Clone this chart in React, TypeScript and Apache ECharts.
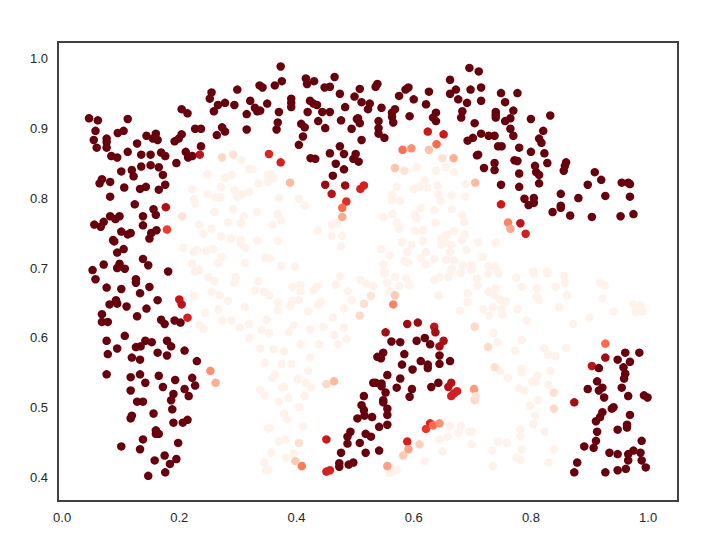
import React, { useEffect, useRef } from "react";
import * as echarts from "echarts";

const xTicks = [0, 0.2, 0.4, 0.6, 0.8, 1.0];
const yTicks = [0.4, 0.5, 0.6, 0.7, 0.8, 0.9, 1.0];
const redsScale = ["#fff5f0", "#fee0d2", "#fcbba1", "#fc9272", "#fb6a4a", "#ef3b2c", "#cb181d", "#a50f15", "#67000d"];

const lightPoints: number[][] = [
[.306,.854],[.319,.841],[.325,.841],[.248,.834],[.278,.829],[.289,.833],[.222,.813],[.271,.816],[.335,.821],[.351,.833],[.351,.823],[.248,.806],[.262,.801],[.270,.801],[.294,.811],[.299,.802],[.306,.805],[.319,.809],[.225,.798],[.227,.792],[.292,.784],[.260,.780],[.310,.774],[.333,.780],[.234,.762],[.283,.765],[.305,.764],[.255,.756],[.241,.749],[.271,.745],[.289,.742],[.305,.740],[.305,.735],[.312,.729],[.333,.739],[.207,.729],[.224,.723],[.230,.726],[.246,.724],[.258,.727],[.273,.716],[.266,.707],[.222,.706],[.312,.707],[.346,.715],[.234,.697],
[.227,.695],[.250,.687],[.260,.681],[.294,.679],[.296,.687],[.335,.681],[.225,.660],[.255,.666],[.269,.661],[.283,.653],[.329,.668],[.345,.666],[.312,.644],[.267,.641],[.244,.636],[.273,.625],[.289,.625],[.319,.620],[.303,.615],[.234,.619],[.241,.613],[.340,.612],[.349,.626],[.319,.600],[.338,.585],[.346,.565],[.338,.526],[.346,.518],[.351,.471],[.345,.422],[.348,.411],
[.469,.764],[.460,.762],[.460,.746],[.478,.746],[.476,.731],[.437,.754],[.404,.799],[.414,.789],[.370,.800],[.368,.777],[.359,.762],[.374,.768],[.368,.739],[.354,.714],[.374,.703],[.397,.702],[.356,.834],[.360,.828],
[.605,.844],[.638,.839],[.655,.844],[.669,.837],[.571,.816],[.563,.805],[.563,.797],[.577,.796],[.600,.813],[.610,.816],[.619,.825],[.623,.815],[.640,.818],[.688,.820],[.642,.805],[.646,.796],[.665,.804],[.688,.802],[.612,.786],[.635,.783],[.665,.784],[.564,.777],[.548,.773],[.602,.776],[.605,.771],[.683,.776],[.686,.766],[.571,.765],[.575,.756],[.637,.765],[.602,.753],[.616,.754],[.669,.753],[.657,.748],[.647,.742],[.687,.748],[.580,.737],[.616,.739],[.596,.733],[.682,.740],[.653,.737],[.647,.733],[.664,.733],[.662,.723],[.545,.727],[.559,.718],[.589,.723],[.621,.723],[.690,.726],[.612,.714],[.635,.713],[.655,.712],[.669,.711],[.584,.710],[.591,.707],[.621,.705],[.548,.705],[.550,.695],[.684,.704],[.699,.704],[.699,.697],[.665,.699],
[.710,.737],[.740,.736],[.718,.716],[.699,.700],[.727,.703],[.738,.703],[.804,.695],[.828,.695],[.744,.695],
[.550,.692],[.568,.687],[.587,.685],[.474,.688],[.509,.683],[.520,.677],[.531,.674],[.555,.679],[.575,.674],[.593,.675],[.559,.667],[.635,.683],[.644,.687],[.659,.687],[.680,.693],[.664,.696],[.393,.673],[.407,.676],[.407,.667],[.429,.668],[.435,.674],[.467,.676],[.488,.667],[.354,.661],[.368,.651],[.368,.640],[.393,.653],[.404,.654],[.389,.646],[.437,.648],[.442,.652],[.420,.638],[.481,.642],[.494,.654],[.642,.661],[.692,.664],[.692,.651],[.679,.639],[.462,.629],[.395,.618],[.387,.608],[.423,.612],[.446,.616],[.481,.615],[.353,.607],[.465,.604],[.485,.598],[.471,.591],[.407,.591],[.439,.591],[.361,.584],[.379,.581],[.423,.572],[.375,.563],[.391,.563],[.420,.553],[.359,.543],[.363,.548],[.402,.541],[.416,.536],[.425,.529],[.375,.529],[.379,.530],[.386,.514],[.370,.509],[.414,.517],[.404,.501],[.379,.492],[.384,.484],[.411,.474],[.354,.471],[.382,.455],[.370,.452],[.357,.436],[.382,.429],[.395,.435],[.352,.411],[.662,.474],[.681,.474],[.676,.464],[.695,.466],[.699,.466],[.658,.459],[.644,.455],[.699,.448],[.649,.438],[.619,.424],[.571,.411],[.559,.407],[.562,.414],
[.775,.686],[.805,.692],[.828,.692],[.856,.689],[.858,.679],[.784,.673],[.810,.671],[.842,.673],[.862,.661],[.918,.679],[.926,.675],[.922,.657],[.975,.648],[.987,.647],[.979,.637],[.990,.638],[.941,.638],[.848,.644],[.900,.629],[.872,.620],[.793,.625],[.777,.641],[.709,.675],[.708,.685],[.727,.692],[.745,.692],[.727,.666],[.740,.671],[.738,.661],[.747,.655],[.757,.652],[.719,.641],[.735,.644],[.750,.642],[.751,.634],[.729,.632],[.810,.659],[.814,.654],[.736,.607],[.743,.594],[.784,.597],[.773,.582],[.823,.585],[.830,.576],[.842,.574],[.860,.586],[.747,.553],[.761,.543],[.784,.556],[.784,.551],[.833,.553],[.811,.546],[.802,.538],[.808,.537],[.830,.533],[.780,.528],[.789,.525],[.812,.511],[.798,.503],[.807,.489],[.804,.477],[.823,.466],[.782,.469],[.782,.460],[.759,.450],[.744,.452],[.734,.439],[.784,.441],[.839,.441],[.775,.429],[.782,.426],[.830,.422],[.735,.417],
];

const midPoints: number[][] = [
[.273,.858,.15],[.292,.862,.12],[.205,.774,.1],[.177,.787,.85],[.179,.755,.62],[.235,.862,.8],[.200,.655,.78],[.204,.648,.8],[.214,.629,.72],[.253,.553,.38],[.262,.536,.28],
[.353,.863,.7],[.373,.851,.72],[.449,.819,.9],[.483,.818,.9],[.460,.806,.82],[.509,.813,.72],[.515,.818,.72],[.485,.795,.68],[.478,.786,.5],[.478,.773,.3],[.389,.822,.25],[.624,.895,.75],[.651,.891,.75],[.639,.877,.5],[.626,.869,.22],[.596,.871,.38],[.581,.869,.48],[.649,.857,.12],[.668,.857,.28],[.568,.843,.22],[.584,.839,.1],[.705,.822,.25],
[.749,.791,.75],[.761,.765,.42],[.765,.756,.3],[.782,.764,.8],[.791,.749,.72],
[.589,.620,.9],[.607,.622,.9],[.552,.608,.88],[.635,.616,.8],[.637,.608,.88],[.651,.596,.85],[.644,.588,.88],[.659,.530,.82],[.664,.536,.82],[.674,.524,.72],[.669,.521,.72],[.664,.517,.72],[.451,.455,.75],[.451,.409,.72],[.457,.411,.72],[.628,.478,.7],[.621,.470,.65],[.633,.475,.5],[.644,.478,.38],[.589,.452,.72],[.591,.441,.32],[.582,.432,.2],[.610,.448,.18],[.555,.417,.33],[.409,.417,.45],[.398,.424,.2],[.565,.648,.42],[.568,.661,.2],[.464,.538,.25],[.451,.534,.15],[.508,.632,.15],[.515,.649,.13],[.527,.660,.1],[.704,.616,.15],[.703,.527,.35],[.404,.450,.13],[.704,.511,.15],[.706,.517,.12],
[.927,.572,.88],[.904,.560,.8],[.874,.508,.88],[.927,.592,.5],[.727,.587,.15],[.738,.558,.13],[.839,.522,.13],[.839,.499,.15],
];

const darkPoints: number[][] = [
[.046,.914],[.061,.911],[.112,.913],[.057,.896],[.054,.883],[.076,.885],[.076,.880],[.076,.872],[.059,.872],[.095,.893],[.105,.896],[.128,.878],[.144,.889],[.155,.885],[.160,.892],[.163,.883],[.112,.866],[.084,.860],[.094,.858],[.135,.862],[.151,.862],[.169,.865],[.176,.860],[.195,.850],[.211,.866],[.215,.858],[.222,.860],[.192,.881],[.199,.885],[.204,.891],[.237,.874],[.227,.899],[.237,.899],[.204,.927],[.214,.921],[.255,.951],[.252,.942],[.266,.933],[.278,.936],[.259,.924],[.294,.933],[.299,.955],[.321,.939],[.337,.961],[.342,.958],[.329,.929],[.333,.924],[.338,.925],[.315,.920],[.315,.898],[.273,.901],[.278,.895],[.264,.890],[.350,.935],[.101,.838],[.119,.840],[.122,.831],[.135,.845],[.151,.847],[.165,.844],[.172,.833],[.068,.827],[.064,.821],[.082,.823],[.106,.815],[.133,.813],[.143,.816],[.165,.812],[.176,.819],[.082,.802],[.124,.791],[.156,.784],[.160,.776],[.138,.774],[.082,.774],[.091,.770],[.098,.774],[.071,.766],[.066,.759],[.055,.762],[.138,.761],[.161,.754],[.152,.750],[.149,.742],[.101,.752],[.112,.748],[.117,.750],[.087,.740],[.089,.738],[.105,.727],[.094,.722],[.138,.713],[.147,.704],[.071,.705],[.098,.706],[.094,.700],[.107,.699],[.052,.697],[.181,.695],
[.057,.684],[.126,.684],[.126,.679],[.076,.672],[.101,.670],[.149,.673],[.133,.664],[.163,.654],[.092,.654],[.081,.648],[.094,.649],[.110,.645],[.144,.642],[.068,.634],[.128,.631],[.068,.623],[.078,.623],[.169,.626],[.175,.620],[.192,.625],[.202,.622],[.107,.603],[.076,.596],[.142,.596],[.153,.594],[.126,.587],[.134,.588],[.179,.596],[.186,.588],[.094,.585],[.078,.577],[.163,.579],[.179,.575],[.209,.582],[.119,.572],[.133,.569],[.230,.567],[.076,.548],[.117,.544],[.133,.548],[.165,.546],[.142,.536],[.193,.540],[.222,.543],[.227,.532],[.172,.530],[.117,.525],[.209,.527],[.190,.520],[.216,.517],[.186,.511],[.128,.509],[.138,.509],[.188,.498],[.156,.492],[.119,.489],[.117,.485],[.190,.479],[.206,.479],[.214,.483],[.160,.468],[.160,.463],[.165,.463],[.138,.455],[.198,.450],[.101,.445],[.133,.441],[.175,.432],[.158,.425],[.195,.427],[.184,.420],[.176,.408],[.147,.403],
[.373,.988],[.375,.967],[.363,.961],[.416,.971],[.418,.963],[.430,.967],[.465,.973],[.448,.958],[.457,.959],[.508,.956],[.474,.949],[.538,.963],[.535,.959],[.591,.958],[.586,.955],[.575,.946],[.626,.952],[.662,.969],[.672,.955],[.662,.949],[.697,.955],[.695,.986],[.676,.941],[.691,.936],[.600,.941],[.621,.934],[.391,.942],[.391,.936],[.391,.930],[.423,.939],[.429,.935],[.435,.933],[.499,.945],[.511,.937],[.483,.930],[.525,.935],[.522,.927],[.545,.929],[.370,.923],[.419,.923],[.444,.923],[.457,.923],[.568,.927],[.563,.922],[.563,.916],[.593,.917],[.638,.922],[.633,.915],[.638,.910],[.683,.924],[.681,.915],[.368,.908],[.366,.898],[.437,.910],[.476,.911],[.408,.906],[.414,.901],[.505,.914],[.503,.913],[.508,.907],[.449,.900],[.494,.899],[.540,.910],[.540,.900],[.540,.892],[.550,.886],[.565,.908],[.704,.907],[.411,.888],[.404,.876],[.511,.883],[.692,.882],[.701,.886],[.474,.874],[.457,.864],[.481,.863],[.424,.857],[.432,.856],[.501,.863],[.497,.856],[.506,.852],[.467,.849],[.481,.841],[.462,.832],[.708,.861],
[.711,.981],[.715,.958],[.715,.939],[.749,.950],[.777,.950],[.756,.937],[.770,.925],[.740,.923],[.740,.919],[.740,.915],[.765,.914],[.756,.910],[.800,.913],[.833,.918],[.765,.899],[.770,.889],[.821,.896],[.715,.892],[.728,.889],[.738,.889],[.814,.885],[.818,.879],[.744,.874],[.750,.874],[.780,.872],[.800,.866],[.823,.864],[.710,.862],[.772,.854],[.777,.853],[.828,.850],[.807,.846],[.860,.851],[.858,.846],[.856,.839],[.738,.850],[.720,.843],[.738,.840],[.780,.835],[.809,.837],[.814,.833],[.909,.837],[.920,.826],[.897,.819],[.955,.822],[.966,.822],[.969,.820],[.749,.819],[.780,.816],[.814,.821],[.851,.806],[.881,.800],[.927,.803],[.969,.802],[.789,.799],[.805,.800],[.805,.793],[.796,.790],[.851,.789],[.851,.786],[.837,.780],[.867,.775],[.904,.773],[.953,.774],[.975,.777],
[.562,.595],[.577,.594],[.605,.596],[.619,.600],[.628,.591],[.584,.577],[.644,.575],[.548,.579],[.538,.573],[.544,.571],[.612,.567],[.624,.562],[.624,.557],[.644,.563],[.662,.567],[.580,.562],[.598,.555],[.555,.547],[.577,.542],[.531,.536],[.535,.536],[.545,.535],[.545,.531],[.642,.536],[.630,.530],[.571,.529],[.597,.527],[.552,.522],[.593,.516],[.515,.517],[.548,.511],[.548,.508],[.511,.504],[.515,.497],[.555,.499],[.555,.490],[.516,.489],[.529,.487],[.504,.485],[.541,.473],[.555,.476],[.492,.466],[.487,.459],[.518,.463],[.527,.459],[.487,.449],[.508,.450],[.476,.436],[.518,.436],[.541,.439],[.473,.421],[.473,.416],[.497,.422],[.489,.419],
[.916,.557],[.948,.569],[.961,.579],[.985,.579],[.969,.566],[.958,.558],[.961,.549],[.959,.542],[.913,.538],[.897,.527],[.916,.525],[.922,.529],[.955,.529],[.925,.515],[.966,.517],[.993,.518],[.999,.515],[.938,.499],[.941,.501],[.922,.494],[.918,.487],[.911,.481],[.969,.490],[.948,.469],[.964,.476],[.964,.472],[.913,.466],[.911,.453],[.989,.453],[.891,.445],[.907,.443],[.934,.436],[.948,.434],[.975,.439],[.966,.434],[.987,.436],[.966,.425],[.989,.425],[.879,.422],[.874,.408],[.927,.408],[.948,.411],[.962,.413],[.996,.415],
];

const lightValue = 0.02;
const darkValue = 1;

export default function App() {
  const ref = useRef<HTMLDivElement>(null);
  useEffect(() => {
    const chart = echarts.init(ref.current!, undefined, { renderer: "svg" });
    const data = [
      ...lightPoints.map(([x, y]) => [x, y, lightValue]),
      ...midPoints,
      ...darkPoints.map(([x, y]) => [x, y, darkValue]),
    ];
    const labelStyle = { color: "#262626", fontFamily: "Liberation Sans", fontSize: 13 };
    chart.setOption({
      animation: false,
      backgroundColor: "#fff",
      grid: { left: 58, right: 27, top: 42, bottom: 40, show: true, borderColor: "#404040", borderWidth: 2, backgroundColor: "#fff" },
      xAxis: {
        type: "value", min: -0.007, max: 1.051,
        axisLine: { show: false }, axisTick: { show: false }, splitLine: { show: false },
        axisLabel: { ...labelStyle, margin: 10, customValues: xTicks, formatter: (v: number) => v.toFixed(1) },
      },
      yAxis: {
        type: "value", min: 0.367, max: 1.023,
        axisLine: { show: false }, axisTick: { show: false }, splitLine: { show: false },
        axisLabel: { ...labelStyle, margin: 10, customValues: yTicks, formatter: (v: number) => v.toFixed(1) },
      },
      visualMap: { show: false, type: "continuous", min: 0, max: 1, dimension: 2, seriesIndex: 0, inRange: { color: redsScale } },
      series: [{ type: "scatter", symbol: "circle", symbolSize: 8.5, data, clip: true, itemStyle: { opacity: 1 } }],
    });
    return () => chart.dispose();
  }, []);
  return <div ref={ref} style={{ position: "fixed", left: 0, top: 0, width: 705, height: 541 }} />;
}
